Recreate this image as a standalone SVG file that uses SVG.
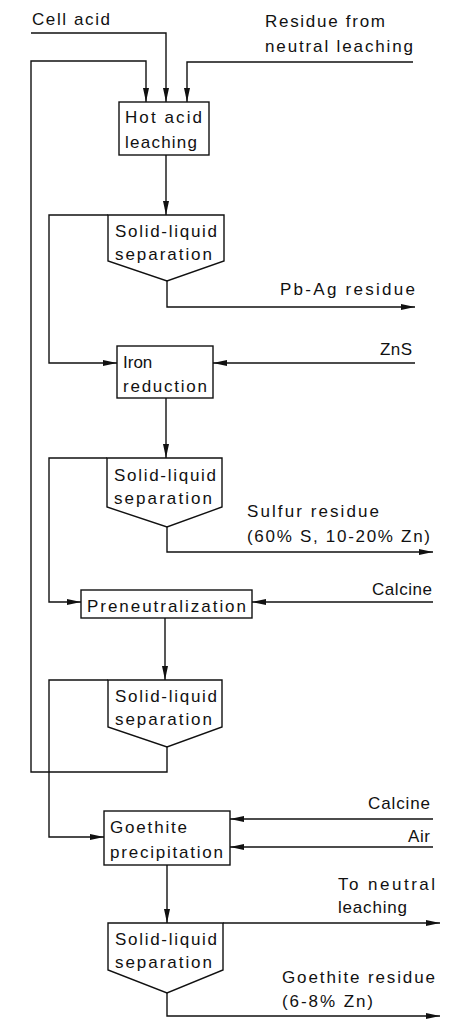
<svg xmlns="http://www.w3.org/2000/svg" width="451" height="1019" viewBox="0 0 451 1019">
<style>
text{font-family:"Liberation Sans",Arial,sans-serif;font-size:17px;fill:#111}
.box{fill:#fff;stroke:#111;stroke-width:1.4}
.c{fill:none;stroke:#111;stroke-width:1.4}
</style>
<defs>
<marker id="ah" markerUnits="userSpaceOnUse" viewBox="0 0 14 6" refX="14" refY="3" markerWidth="14" markerHeight="6" orient="auto">
<path d="M0,0 L14,3 L0,6 z" fill="#111"/>
</marker>
</defs>
<rect width="451" height="1019" fill="#fff"/>
<g id="connectors">
<polyline class="c" points="31,33 166,33 166,102" marker-end="url(#ah)"/>
<polyline class="c" points="167,747 167,772 31,772 31,61 146,61 146,102" marker-end="url(#ah)"/>
<polyline class="c" points="413,62 187,62 187,102" marker-end="url(#ah)"/>
<polyline class="c" points="166,155 166,215" marker-end="url(#ah)"/>
<polyline class="c" points="108,215 49,215 49,363 117,363" marker-end="url(#ah)"/>
<polyline class="c" points="167,281 167,307 415,307" marker-end="url(#ah)"/>
<polyline class="c" points="415,363 213,363" marker-end="url(#ah)"/>
<polyline class="c" points="166,398 166,458" marker-end="url(#ah)"/>
<polyline class="c" points="107,458 49,458 49,602 81,602" marker-end="url(#ah)"/>
<polyline class="c" points="167,527 167,552 433,552" marker-end="url(#ah)"/>
<polyline class="c" points="433,602 252,602" marker-end="url(#ah)"/>
<polyline class="c" points="165,618 165,680" marker-end="url(#ah)"/>
<polyline class="c" points="108,680 49,680 49,837 104,837" marker-end="url(#ah)"/>
<polyline class="c" points="433,819 230,819" marker-end="url(#ah)"/>
<polyline class="c" points="433,847 230,847" marker-end="url(#ah)"/>
<polyline class="c" points="167,865 167,923" marker-end="url(#ah)"/>
<polyline class="c" points="223,923 440,923" marker-end="url(#ah)"/>
<polyline class="c" points="167,993 167,1016 440,1016" marker-end="url(#ah)"/>
</g>
<g id="labels">
<text x="32" y="25" textLength="78" lengthAdjust="spacing">Cell acid</text>
<text x="265" y="27" textLength="120" lengthAdjust="spacing">Residue from</text>
<text x="265" y="52" textLength="148" lengthAdjust="spacing">neutral leaching</text>
<text x="280" y="295" textLength="135" lengthAdjust="spacing">Pb-Ag residue</text>
<text x="380" y="355" textLength="32" lengthAdjust="spacing">ZnS</text>
<text x="247" y="517" textLength="132" lengthAdjust="spacing">Sulfur residue</text>
<text x="247" y="542" textLength="183" lengthAdjust="spacing">(60% S, 10-20% Zn)</text>
<text x="372" y="595" textLength="60" lengthAdjust="spacing">Calcine</text>
<text x="368" y="809" textLength="62" lengthAdjust="spacing">Calcine</text>
<text x="408" y="842" textLength="22" lengthAdjust="spacing">Air</text>
<text x="338" y="890" textLength="97" lengthAdjust="spacing">To neutral</text>
<text x="338" y="913" textLength="69" lengthAdjust="spacing">leaching</text>
<text x="282" y="983" textLength="153" lengthAdjust="spacing">Goethite residue</text>
<text x="282" y="1007" textLength="91" lengthAdjust="spacing">(6-8% Zn)</text>
</g>
<g id="hot-acid-leaching">
<rect class="box" x="119" y="102" width="90" height="53"/>
<text x="125" y="123" textLength="77" lengthAdjust="spacing">Hot acid</text>
<text x="125" y="148" textLength="72" lengthAdjust="spacing">leaching</text>
</g>
<g id="separation-1">
<polygon class="box" points="108,215 224,215 224,261 167,281 108,261"/>
<text x="115" y="237" textLength="102" lengthAdjust="spacing">Solid-liquid</text>
<text x="115" y="260" textLength="97" lengthAdjust="spacing">separation</text>
</g>
<g id="iron-reduction">
<rect class="box" x="117" y="346" width="96" height="52"/>
<text x="123" y="368">Iron</text>
<text x="123" y="392" textLength="84" lengthAdjust="spacing">reduction</text>
</g>
<g id="separation-2">
<polygon class="box" points="107,458 222,458 222,507 167,527 107,507"/>
<text x="114" y="481" textLength="102" lengthAdjust="spacing">Solid-liquid</text>
<text x="114" y="504" textLength="98" lengthAdjust="spacing">separation</text>
</g>
<g id="preneutralization">
<rect class="box" x="81" y="590" width="171" height="28"/>
<text x="87" y="612" textLength="159" lengthAdjust="spacing">Preneutralization</text>
</g>
<g id="separation-3">
<polygon class="box" points="108,680 222,680 222,727 167,747 108,727"/>
<text x="115" y="702" textLength="102" lengthAdjust="spacing">Solid-liquid</text>
<text x="115" y="725" textLength="97" lengthAdjust="spacing">separation</text>
</g>
<g id="goethite-precipitation">
<rect class="box" x="104" y="811" width="126" height="54"/>
<text x="110" y="833" textLength="77" lengthAdjust="spacing">Goethite</text>
<text x="110" y="858" textLength="113" lengthAdjust="spacing">precipitation</text>
</g>
<g id="separation-4">
<polygon class="box" points="108,923 223,923 223,970 167,993 108,970"/>
<text x="115" y="945" textLength="102" lengthAdjust="spacing">Solid-liquid</text>
<text x="115" y="968" textLength="97" lengthAdjust="spacing">separation</text>
</g>
</svg>
